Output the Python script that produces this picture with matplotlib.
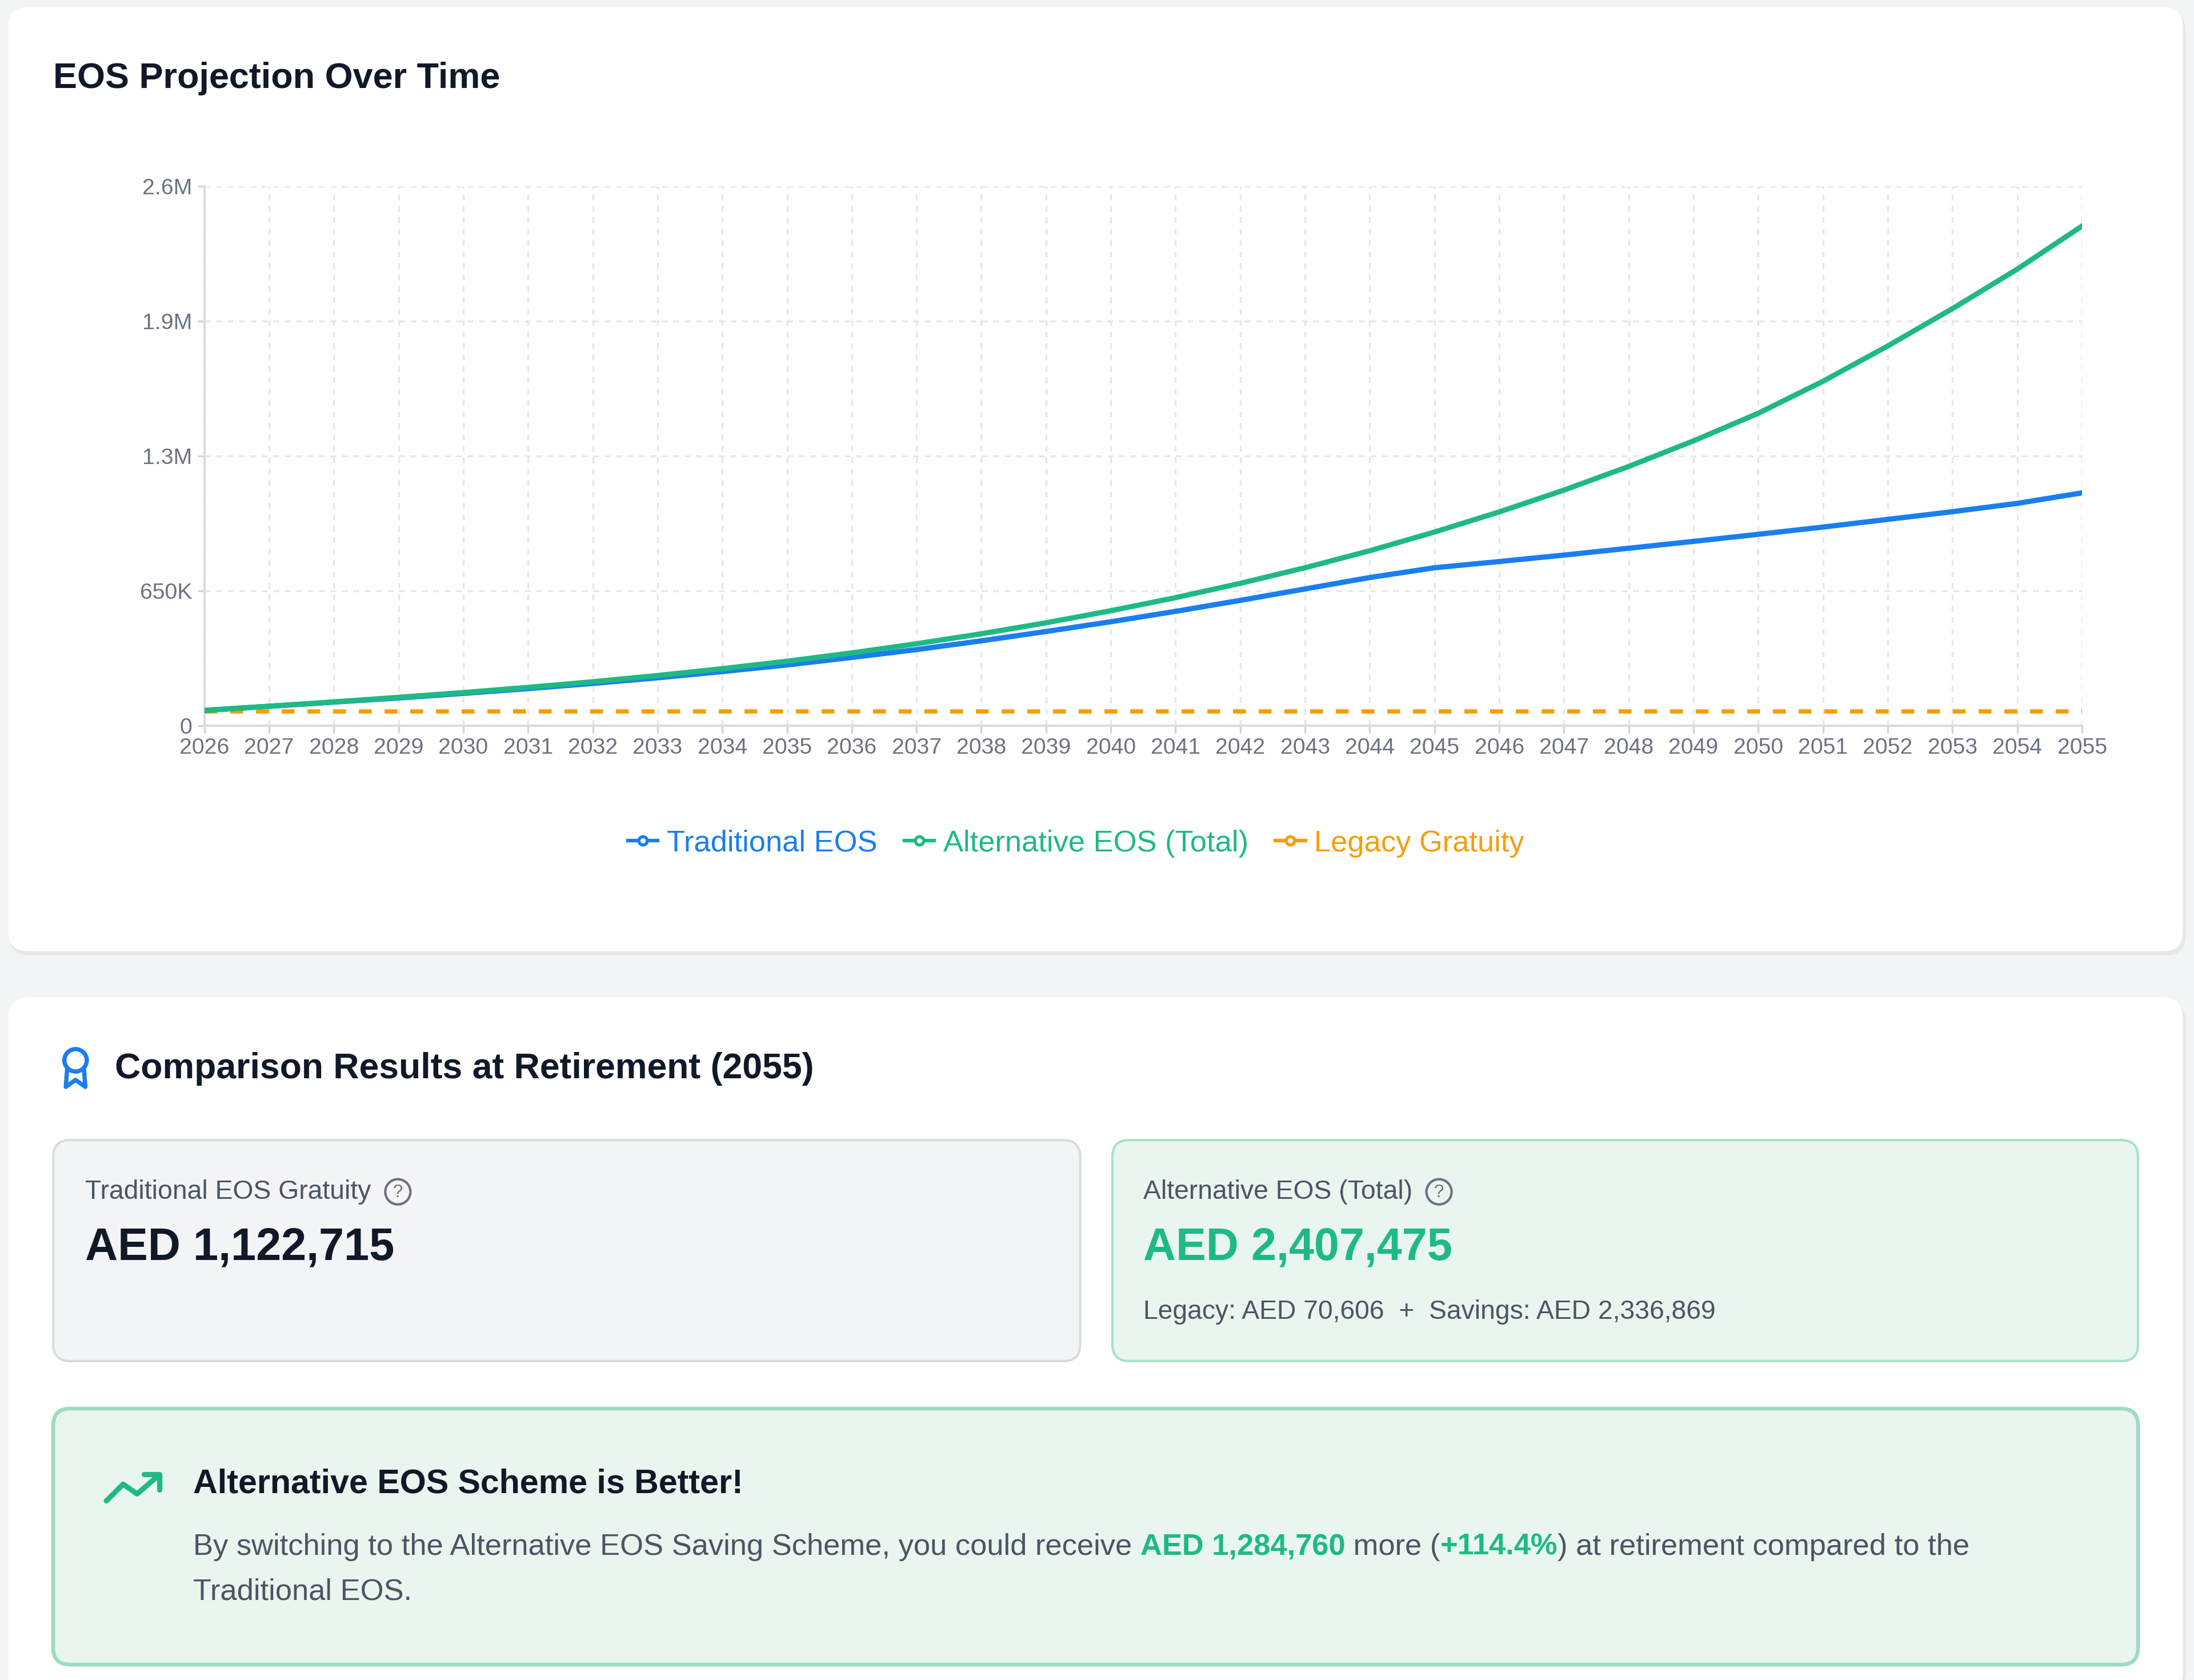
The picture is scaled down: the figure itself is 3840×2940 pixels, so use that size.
import matplotlib
matplotlib.use("Agg")
import matplotlib.pyplot as plt
from matplotlib.patches import FancyBboxPatch, Circle
from matplotlib.lines import Line2D

years = list(range(2026, 2056))
traditional = [75000, 95000, 115000, 135000, 157000, 180000, 205000, 232000, 262000, 294000,
               330000, 368000, 410000, 455000, 502000, 552000, 605000, 660000, 715000, 762000,
               792000, 823000, 856000, 889000, 923000, 958000, 995000, 1032000, 1072000, 1122715]
alternative = [75000, 95000, 116000, 138000, 161000, 186000, 213000, 243000, 276000, 312000,
               352000, 396000, 444000, 497000, 555000, 618000, 687000, 762000, 844000, 934000,
               1031000, 1136000, 1250000, 1373000, 1506000, 1660000, 1830000, 2010000, 2200000, 2407475]
legacy = [70606] * len(years)
ytick_vals = [0, 650000, 1300000, 1950000, 2600000]
ytick_labels = ["0", "650K", "1.3M", "1.9M", "2.6M"]

BLUE = "#1a7ef0"
GREEN = "#1fb985"
ORANGE = "#f59e0b"
FONT = "Liberation Sans"
plt.rcParams["font.family"] = FONT

fig = plt.figure(figsize=(12.8, 9.8), dpi=300)
fig.patch.set_facecolor("#f3f4f6")
bg = fig.add_axes([0, 0, 1, 1], zorder=0)
bg.set_xlim(0, 1568); bg.set_ylim(1201, 0); bg.axis("off")

def box(x0, y0, x1, y1, fc, ec, lw=1.0, r=14, z=1):
    bg.add_patch(FancyBboxPatch((x0, y0), x1 - x0, y1 - y0,
                                boxstyle=f"round,pad=0,rounding_size={r}",
                                fc=fc, ec=ec, lw=lw, zorder=z))

box(7, 8, 1562, 683, "#e5e7eb", "none", z=0.5)
box(6, 5, 1560, 680, "white", "none")
box(7, 716, 1562, 1210, "#e5e7eb", "none", z=0.5)
box(6, 713, 1560, 1210, "white", "none")
box(38, 815, 772, 973, "#f3f4f6", "#d8dbe0", lw=1.0, r=12, z=2)
box(795, 815, 1528, 973, "#e8f6ef", "#a9e2c6", lw=1.0, r=12, z=2)
box(38, 1007, 1528, 1190, "#e8f6ef", "#9edcbf", lw=1.6, r=12, z=2)

fig.canvas.draw()
renderer = fig.canvas.get_renderer()
inv = bg.transData.inverted()

def right_of(t):
    ext = t.get_window_extent(renderer)
    return inv.transform((ext.x1, ext.y0))[0]

bg.text(38, 56, "EOS Projection Over Time", fontsize=15.1, fontweight="bold", color="#111827", va="center")
bg.text(82, 764, "Comparison Results at Retirement (2055)", fontsize=15, fontweight="bold", color="#111827", va="center")
bg.add_patch(Circle((54, 758), 8, fill=False, ec=BLUE, lw=1.8, zorder=3))
bg.plot([48, 47, 54, 61, 60], [764, 777, 772, 777, 764], color=BLUE, lw=1.8, zorder=3)

def qmark(x, y):
    bg.add_patch(Circle((x, y), 9, fill=False, ec="#6b7280", lw=1.0, zorder=3))
    bg.text(x, y + 0.5, "?", fontsize=7.5, color="#6b7280", ha="center", va="center", zorder=3)

t = bg.text(61, 852, "Traditional EOS Gratuity", fontsize=11.1, color="#4b5563", va="center", zorder=3)
qmark(right_of(t) + 19, 852)
bg.text(61, 892, "AED 1,122,715", fontsize=19, fontweight="bold", color="#111827", va="center", zorder=3)
t = bg.text(817, 852, "Alternative EOS (Total)", fontsize=11.1, color="#4b5563", va="center", zorder=3)
qmark(right_of(t) + 19, 852)
bg.text(817, 892, "AED 2,407,475", fontsize=19, fontweight="bold", color=GREEN, va="center", zorder=3)
bg.text(817, 938, "Legacy: AED 70,606  +  Savings: AED 2,336,869", fontsize=11.1, color="#4b5563", va="center", zorder=3)

bg.plot([76, 88, 98, 113], [1073, 1061, 1068, 1055], color=GREEN, lw=2.2, zorder=3, solid_capstyle="round")
bg.plot([103, 114, 114], [1054, 1054, 1065], color=GREEN, lw=2.2, zorder=3, solid_capstyle="round")
bg.text(138, 1061, "Alternative EOS Scheme is Better!", fontsize=14.2, fontweight="bold", color="#111827", va="center", zorder=3)

pieces = [("By switching to the Alternative EOS Saving Scheme, you could receive ", "#4b5563", "normal"),
          ("AED 1,284,760", GREEN, "bold"), (" more (", "#4b5563", "normal"),
          ("+114.4%", GREEN, "bold"), (") at retirement compared to the", "#4b5563", "normal")]
x = 138
for s, c, w in pieces:
    t = bg.text(x, 1106, s, fontsize=12.6, color=c, fontweight=w, va="center", zorder=3)
    x = right_of(t)
bg.text(138, 1138, "Traditional EOS.", fontsize=12.6, color="#4b5563", va="center", zorder=3)

ax = fig.add_axes([146 / 1568, 1 - 519 / 1201, (1488 - 146) / 1568, (519 - 133) / 1201], zorder=5)
ax.patch.set_alpha(0)
ax.plot(years, traditional, color=BLUE, lw=2.2, zorder=4)
ax.plot(years, alternative, color=GREEN, lw=2.2, zorder=5)
ax.plot(years, legacy, color=ORANGE, lw=1.8, ls=(0, (3, 3)), zorder=3)
ax.set_xlim(years[0], years[-1])
ax.set_ylim(0, 2600000)
ax.set_yticks(ytick_vals, ytick_labels)
ax.set_xticks(years, [str(y) for y in years])
ax.tick_params(labelsize=9.4, colors="#6b7280", length=3, width=0.8, color="#d1d5db", pad=2)
ax.grid(True, ls=(0, (3, 3)), color="#e5e7eb", lw=0.8)
for s in ["top", "right"]:
    ax.spines[s].set_visible(False)
for s in ["left", "bottom"]:
    ax.spines[s].set_color("#d9dce3")
    ax.spines[s].set_linewidth(1.0)

handles = [Line2D([], [], color=c, lw=1.5, marker="o", markersize=3.5, markerfacecolor="white", markeredgewidth=1.3)
           for c in (BLUE, GREEN, ORANGE)]
fig.legend(handles, ["Traditional EOS", "Alternative EOS (Total)", "Legacy Gratuity"],
           loc="center", bbox_to_anchor=(769 / 1568, 1 - 603 / 1201), ncol=3, frameon=False,
           fontsize=12.6, handlelength=1.0, handletextpad=0.3, columnspacing=0.9,
           labelcolor=[BLUE, GREEN, ORANGE])
fig.savefig("out.png", dpi=300, facecolor=fig.get_facecolor())
